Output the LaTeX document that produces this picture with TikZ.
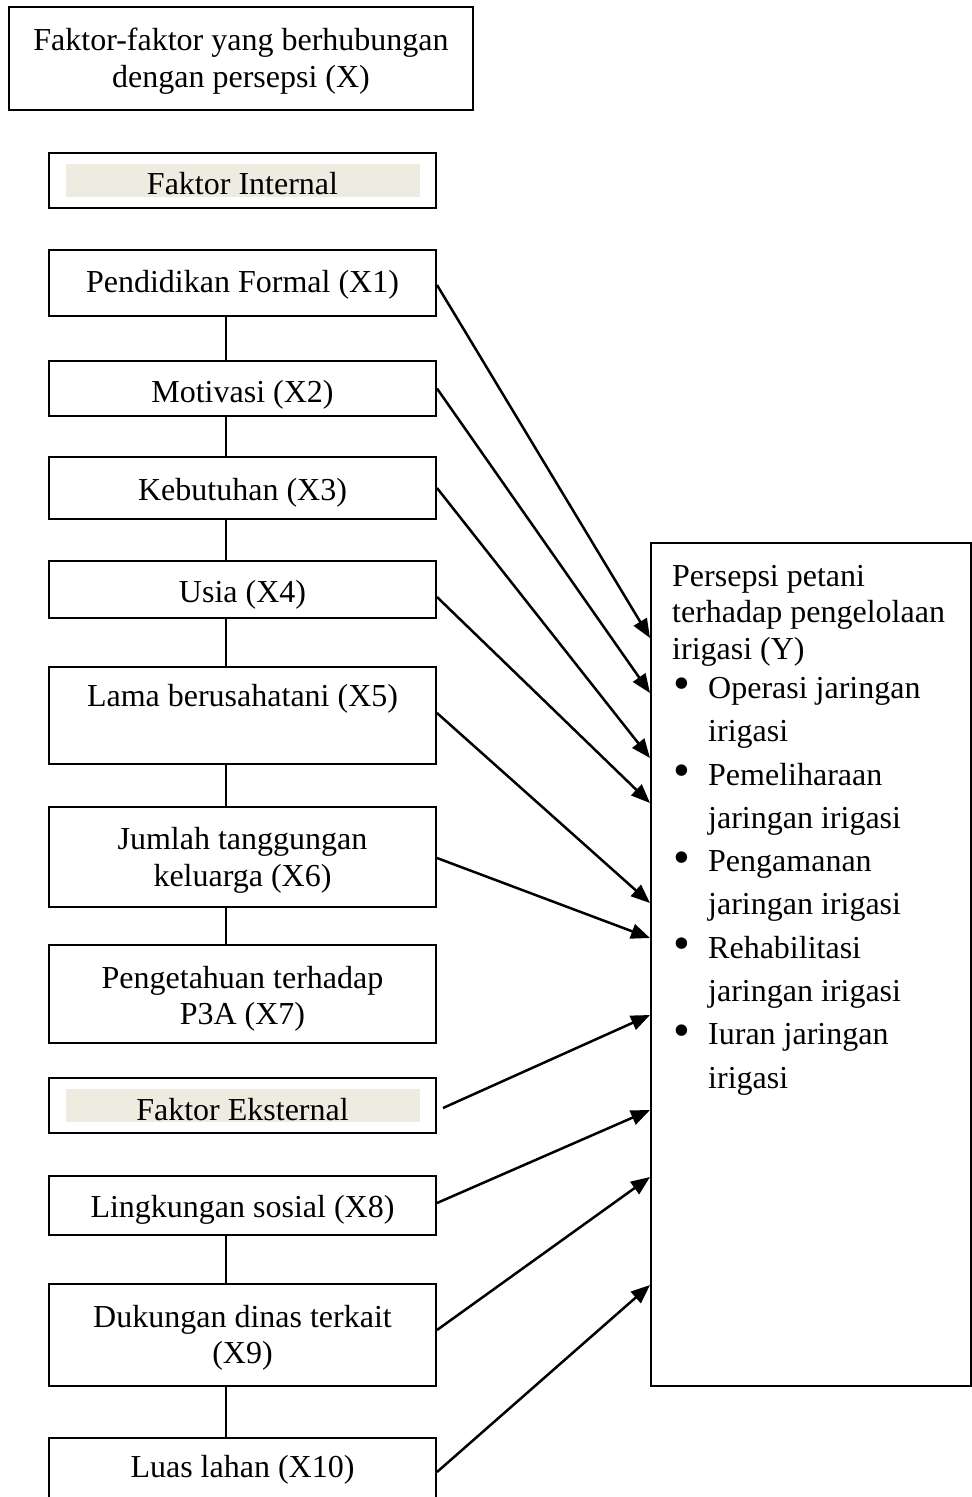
\documentclass[tikz,border=0pt]{standalone}
\usepackage{fontspec}
\setmainfont{Liberation Serif}
\usetikzlibrary{arrows.meta,calc}
\definecolor{tanbg}{HTML}{EEECE1}
\newcommand{\bxt}[2][-4pt]{\raisebox{#1}[\height][\depth]{\begin{tabular}{@{}c@{}}#2\end{tabular}}}
\newcommand{\bul}{\makebox[36pt][l]{\hspace{1pt}\raisebox{-1.5pt}{\scalebox{1.5}{\textbullet}}}}
\begin{document}
\begin{tikzpicture}[x=1pt,y=-1pt,
  box/.style={draw,line width=2pt,minimum width=387pt,inner sep=0pt,font=\fontsize{32}{36.5}\selectfont},
  link/.style={line width=2pt},
  arr/.style={line width=2.5pt,-{Triangle[length=19pt,width=15pt]}},
]
\useasboundingbox (0,0) rectangle (972,1497);

\node[box,minimum width=464pt,minimum height=103pt] (X) at (241,58.5) {\bxt[-3pt]{Faktor-faktor yang berhubungan\\dengan persepsi (X)}};

\fill[tanbg] (66,164) rectangle (420,197);
\node[box,minimum height=55pt] (fi) at (242.5,180.5) {\bxt[-7pt]{Faktor Internal}};

\node[box,minimum height=66pt]  (x1) at (242.5,283)   {\bxt[-2pt]{Pendidikan Formal (X1)}};
\node[box,minimum height=55pt]  (x2) at (242.5,388.5) {\bxt[-7pt]{Motivasi (X2)}};
\node[box,minimum height=62pt]  (x3) at (242.5,488)   {\bxt[-5pt]{Kebutuhan (X3)}};
\node[box,minimum height=57pt]  (x4) at (242.5,589.5) {\bxt[-6pt]{Usia (X4)}};
\node[box,minimum height=97pt]  (x5) at (242.5,715.5) {\bxt[-2pt]{Lama berusahatani (X5)\\ \strut}};
\node[box,minimum height=100pt] (x6) at (242.5,857)   {\bxt[-3.5pt]{Jumlah tanggungan\\keluarga (X6)}};
\node[box,minimum height=98pt]  (x7) at (242.5,994)   {\bxt[-5pt]{Pengetahuan terhadap\\P3A (X7)}};

\fill[tanbg] (66,1089) rectangle (420,1122);
\node[box,minimum height=55pt]  (fe) at (242.5,1105.5) {\bxt[-7.5pt]{Faktor Eksternal}};

\node[box,minimum height=59pt]  (x8) at (242.5,1205.5) {\bxt[-4.5pt]{Lingkungan sosial (X8)}};
\node[box,minimum height=102pt] (x9) at (242.5,1335)   {\bxt[-3pt]{Dukungan dinas terkait\\(X9)}};
\node[box,minimum height=68pt]  (x10) at (242.5,1472)  {\bxt[2pt]{Luas lahan (X10)}};

\node[draw,line width=2pt,minimum width=320pt,minimum height=843pt,inner sep=0pt] (Y) at (811,964.5) {};
\node[anchor=north west,inner sep=0pt,align=left,font=\fontsize{32}{36.5}\selectfont] (Yt) at (672,565)
{Persepsi petani\\
terhadap pengelolaan\\
irigasi (Y)\\[2.5pt]
\bul Operasi jaringan\\[6.8pt]
\hspace*{36pt}irigasi\\[6.8pt]
\bul Pemeliharaan\\[6.8pt]
\hspace*{36pt}jaringan irigasi\\[6.8pt]
\bul Pengamanan\\[6.8pt]
\hspace*{36pt}jaringan irigasi\\[6.8pt]
\bul Rehabilitasi\\[6.8pt]
\hspace*{36pt}jaringan irigasi\\[6.8pt]
\bul Iuran jaringan\\[6.8pt]
\hspace*{36pt}irigasi};

% vertical links
\foreach \a/\b in {x1/x2,x2/x3,x3/x4,x4/x5,x5/x6,x6/x7,x8/x9,x9/x10}
  \draw[link] ([xshift=-17pt]\a.south) -- ([xshift=-17pt]\b.north);

% arrows
\draw[arr] ([yshift=-2pt]x1.east) -- ([yshift=326.5pt]Y.west);
\draw[arr] (x2.east) -- ([yshift=271.5pt]Y.west);
\draw[arr] (x3.east) -- ([yshift=206.5pt]Y.west);
\draw[arr] ([yshift=-7.5pt]x4.east) -- ([yshift=161.5pt]Y.west);
\draw[arr] ([yshift=2.5pt]x5.east) -- ([yshift=61.5pt]Y.west);
\draw[arr] ([yshift=-1pt]x6.east) -- ([yshift=26.5pt]Y.west);
\draw[arr] ([xshift=6pt,yshift=-2.5pt]fe.east) -- ([yshift=-50.5pt]Y.west);
\draw[arr] ([yshift=2.5pt]x8.east) -- ([yshift=-145.5pt]Y.west);
\draw[arr] ([yshift=5pt]x9.east) -- ([yshift=-212.5pt]Y.west);
\draw[arr] (x10.east) -- ([yshift=-320.5pt]Y.west);
\end{tikzpicture}
\end{document}
